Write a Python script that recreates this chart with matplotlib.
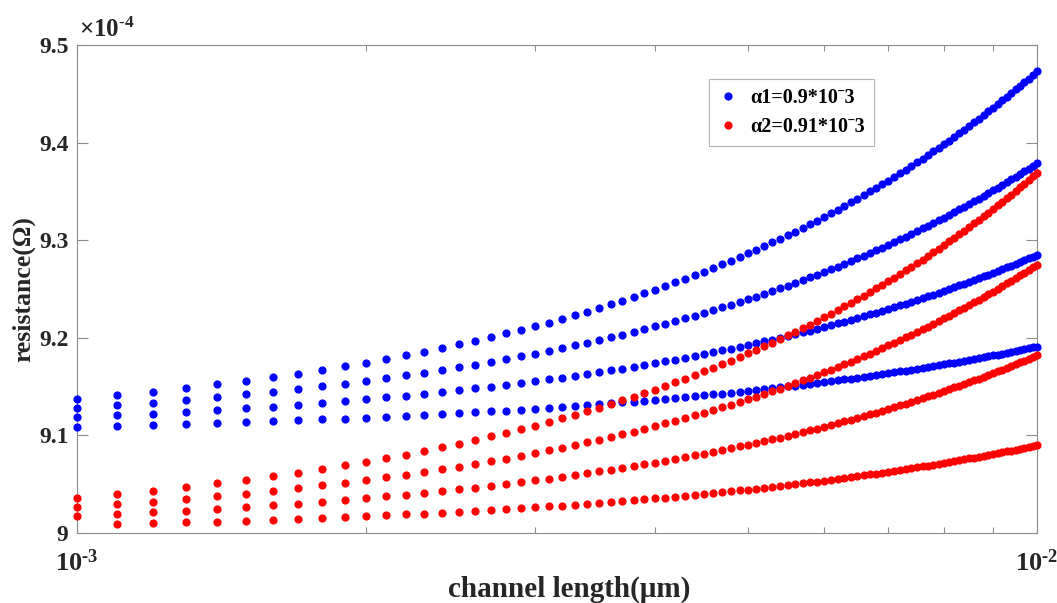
import matplotlib
matplotlib.use("Agg")
import matplotlib.pyplot as plt
from matplotlib.ticker import NullLocator, NullFormatter

plt.rcParams["font.family"] = "Liberation Serif"
plt.rcParams["font.weight"] = "bold"
plt.rcParams["mathtext.fontset"] = "custom"
plt.rcParams["mathtext.rm"] = "Liberation Serif"
plt.rcParams["mathtext.bf"] = "Liberation Serif:bold"
plt.rcParams["mathtext.it"] = "Liberation Serif:italic"

# channel length, in units of 1e-3 um
length = [1.0, 1.1, 1.2, 1.3, 1.4, 1.5, 1.6, 1.7, 1.8, 1.9,
          2.0, 2.1, 2.2, 2.3, 2.4, 2.5, 2.6, 2.7, 2.8, 2.9,
          3.0, 3.1, 3.2, 3.3, 3.4, 3.5, 3.6, 3.7, 3.8, 3.9,
          4.0, 4.1, 4.2, 4.3, 4.4, 4.5, 4.6, 4.7, 4.8, 4.9,
          5.0, 5.1, 5.2, 5.3, 5.4, 5.5, 5.6, 5.7, 5.8, 5.9,
          6.0, 6.1, 6.2, 6.3, 6.4, 6.5, 6.6, 6.7, 6.8, 6.9,
          7.0, 7.1, 7.2, 7.3, 7.4, 7.5, 7.6, 7.7, 7.8, 7.9,
          8.0, 8.1, 8.2, 8.3, 8.4, 8.5, 8.6, 8.7, 8.8, 8.9,
          9.0, 9.1, 9.2, 9.3, 9.4, 9.5, 9.6, 9.7, 9.8, 9.9,
          10.0]

# resistance, in units of 1e-4 ohm -- alpha1 (blue), four curves bottom to top
blue_1 = [9.1091, 9.1100, 9.1109, 9.1118, 9.1127, 9.1137, 9.1146, 9.1155, 9.1164, 9.1173,
          9.1182, 9.1191, 9.1200, 9.1209, 9.1218, 9.1228, 9.1237, 9.1246, 9.1255, 9.1264,
          9.1273, 9.1282, 9.1291, 9.1300, 9.1309, 9.1319, 9.1328, 9.1337, 9.1346, 9.1355,
          9.1364, 9.1373, 9.1382, 9.1391, 9.1400, 9.1410, 9.1419, 9.1428, 9.1437, 9.1446,
          9.1455, 9.1464, 9.1473, 9.1482, 9.1491, 9.1501, 9.1510, 9.1519, 9.1528, 9.1537,
          9.1546, 9.1555, 9.1564, 9.1573, 9.1582, 9.1592, 9.1601, 9.1610, 9.1619, 9.1628,
          9.1637, 9.1646, 9.1655, 9.1664, 9.1673, 9.1683, 9.1692, 9.1701, 9.1710, 9.1719,
          9.1728, 9.1737, 9.1746, 9.1755, 9.1764, 9.1774, 9.1783, 9.1792, 9.1801, 9.1810,
          9.1819, 9.1828, 9.1837, 9.1846, 9.1855, 9.1865, 9.1874, 9.1883, 9.1892, 9.1901,
          9.1910]
blue_2 = [9.1185, 9.1204, 9.1222, 9.1241, 9.1259, 9.1278, 9.1296, 9.1315, 9.1333, 9.1352,
          9.1370, 9.1389, 9.1407, 9.1426, 9.1444, 9.1463, 9.1481, 9.1500, 9.1518, 9.1537,
          9.1555, 9.1574, 9.1592, 9.1611, 9.1629, 9.1648, 9.1666, 9.1685, 9.1703, 9.1722,
          9.1740, 9.1759, 9.1777, 9.1796, 9.1814, 9.1833, 9.1851, 9.1870, 9.1888, 9.1907,
          9.1925, 9.1944, 9.1962, 9.1981, 9.1999, 9.2018, 9.2036, 9.2055, 9.2073, 9.2092,
          9.2110, 9.2129, 9.2147, 9.2166, 9.2184, 9.2203, 9.2221, 9.2240, 9.2258, 9.2277,
          9.2295, 9.2314, 9.2332, 9.2351, 9.2369, 9.2388, 9.2406, 9.2425, 9.2443, 9.2462,
          9.2480, 9.2499, 9.2517, 9.2536, 9.2554, 9.2573, 9.2591, 9.2610, 9.2628, 9.2647,
          9.2665, 9.2684, 9.2702, 9.2721, 9.2739, 9.2758, 9.2776, 9.2795, 9.2813, 9.2832,
          9.2850]
blue_3 = [9.1279, 9.1307, 9.1335, 9.1363, 9.1391, 9.1419, 9.1446, 9.1474, 9.1502, 9.1530,
          9.1558, 9.1586, 9.1614, 9.1642, 9.1670, 9.1698, 9.1725, 9.1753, 9.1781, 9.1809,
          9.1837, 9.1865, 9.1893, 9.1921, 9.1949, 9.1977, 9.2004, 9.2032, 9.2060, 9.2088,
          9.2116, 9.2144, 9.2172, 9.2200, 9.2228, 9.2256, 9.2283, 9.2311, 9.2339, 9.2367,
          9.2395, 9.2423, 9.2451, 9.2479, 9.2507, 9.2535, 9.2562, 9.2590, 9.2618, 9.2646,
          9.2674, 9.2702, 9.2730, 9.2758, 9.2786, 9.2814, 9.2841, 9.2869, 9.2897, 9.2925,
          9.2953, 9.2981, 9.3009, 9.3037, 9.3065, 9.3093, 9.3120, 9.3148, 9.3176, 9.3204,
          9.3232, 9.3260, 9.3288, 9.3316, 9.3344, 9.3372, 9.3399, 9.3427, 9.3455, 9.3483,
          9.3511, 9.3539, 9.3567, 9.3595, 9.3623, 9.3651, 9.3678, 9.3706, 9.3734, 9.3762,
          9.3790]
blue_4 = [9.1373, 9.1410, 9.1448, 9.1485, 9.1522, 9.1560, 9.1597, 9.1634, 9.1671, 9.1709,
          9.1746, 9.1783, 9.1821, 9.1858, 9.1895, 9.1933, 9.1970, 9.2007, 9.2044, 9.2082,
          9.2119, 9.2156, 9.2194, 9.2231, 9.2268, 9.2306, 9.2343, 9.2380, 9.2417, 9.2455,
          9.2492, 9.2529, 9.2567, 9.2604, 9.2641, 9.2679, 9.2716, 9.2753, 9.2790, 9.2828,
          9.2865, 9.2902, 9.2940, 9.2977, 9.3014, 9.3052, 9.3089, 9.3126, 9.3163, 9.3201,
          9.3238, 9.3275, 9.3313, 9.3350, 9.3387, 9.3425, 9.3462, 9.3499, 9.3536, 9.3574,
          9.3611, 9.3648, 9.3686, 9.3723, 9.3760, 9.3798, 9.3835, 9.3872, 9.3909, 9.3947,
          9.3984, 9.4021, 9.4059, 9.4096, 9.4133, 9.4171, 9.4208, 9.4245, 9.4282, 9.4320,
          9.4357, 9.4394, 9.4432, 9.4469, 9.4506, 9.4544, 9.4581, 9.4618, 9.4655, 9.4693,
          9.4730]

# alpha2 (red), four curves bottom to top; first point of the lowest curve is not drawn
nan = float("nan")
red_1 = [nan, 9.0090, 9.0099, 9.0108, 9.0117, 9.0127, 9.0136, 9.0145, 9.0154, 9.0163,
         9.0172, 9.0181, 9.0190, 9.0199, 9.0208, 9.0218, 9.0227, 9.0236, 9.0245, 9.0254,
         9.0263, 9.0272, 9.0281, 9.0290, 9.0299, 9.0309, 9.0318, 9.0327, 9.0336, 9.0345,
         9.0354, 9.0363, 9.0372, 9.0381, 9.0390, 9.0400, 9.0409, 9.0418, 9.0427, 9.0436,
         9.0445, 9.0454, 9.0463, 9.0472, 9.0481, 9.0491, 9.0500, 9.0509, 9.0518, 9.0527,
         9.0536, 9.0545, 9.0554, 9.0563, 9.0572, 9.0582, 9.0591, 9.0600, 9.0609, 9.0618,
         9.0627, 9.0636, 9.0645, 9.0654, 9.0663, 9.0673, 9.0682, 9.0691, 9.0700, 9.0709,
         9.0718, 9.0727, 9.0736, 9.0745, 9.0754, 9.0764, 9.0773, 9.0782, 9.0791, 9.0800,
         9.0809, 9.0818, 9.0827, 9.0836, 9.0845, 9.0855, 9.0864, 9.0873, 9.0882, 9.0891,
         9.0900]
red_2 = [9.0173, 9.0191, 9.0210, 9.0228, 9.0246, 9.0265, 9.0283, 9.0301, 9.0319, 9.0338,
         9.0356, 9.0374, 9.0393, 9.0411, 9.0429, 9.0448, 9.0466, 9.0484, 9.0502, 9.0521,
         9.0539, 9.0557, 9.0576, 9.0594, 9.0612, 9.0631, 9.0649, 9.0667, 9.0685, 9.0704,
         9.0722, 9.0740, 9.0759, 9.0777, 9.0795, 9.0814, 9.0832, 9.0850, 9.0868, 9.0887,
         9.0905, 9.0923, 9.0942, 9.0960, 9.0978, 9.0997, 9.1015, 9.1033, 9.1051, 9.1070,
         9.1088, 9.1106, 9.1125, 9.1143, 9.1161, 9.1180, 9.1198, 9.1216, 9.1234, 9.1253,
         9.1271, 9.1289, 9.1308, 9.1326, 9.1344, 9.1363, 9.1381, 9.1399, 9.1417, 9.1436,
         9.1454, 9.1472, 9.1491, 9.1509, 9.1527, 9.1546, 9.1564, 9.1582, 9.1600, 9.1619,
         9.1637, 9.1655, 9.1674, 9.1692, 9.1710, 9.1729, 9.1747, 9.1765, 9.1783, 9.1802,
         9.1820]
red_3 = [9.0266, 9.0294, 9.0321, 9.0349, 9.0376, 9.0404, 9.0432, 9.0459, 9.0487, 9.0514,
         9.0542, 9.0570, 9.0597, 9.0625, 9.0652, 9.0680, 9.0708, 9.0735, 9.0763, 9.0790,
         9.0818, 9.0846, 9.0873, 9.0901, 9.0928, 9.0956, 9.0984, 9.1011, 9.1039, 9.1066,
         9.1094, 9.1122, 9.1149, 9.1177, 9.1204, 9.1232, 9.1260, 9.1287, 9.1315, 9.1342,
         9.1370, 9.1398, 9.1425, 9.1453, 9.1480, 9.1508, 9.1536, 9.1563, 9.1591, 9.1618,
         9.1646, 9.1674, 9.1701, 9.1729, 9.1756, 9.1784, 9.1812, 9.1839, 9.1867, 9.1894,
         9.1922, 9.1950, 9.1977, 9.2005, 9.2032, 9.2060, 9.2088, 9.2115, 9.2143, 9.2170,
         9.2198, 9.2226, 9.2253, 9.2281, 9.2308, 9.2336, 9.2364, 9.2391, 9.2419, 9.2446,
         9.2474, 9.2502, 9.2529, 9.2557, 9.2584, 9.2612, 9.2640, 9.2667, 9.2695, 9.2722,
         9.2750]
red_4 = [9.0360, 9.0397, 9.0434, 9.0471, 9.0508, 9.0545, 9.0582, 9.0619, 9.0656, 9.0693,
         9.0730, 9.0767, 9.0804, 9.0841, 9.0878, 9.0915, 9.0952, 9.0989, 9.1026, 9.1063,
         9.1100, 9.1137, 9.1174, 9.1211, 9.1248, 9.1285, 9.1322, 9.1359, 9.1396, 9.1433,
         9.1470, 9.1507, 9.1544, 9.1581, 9.1618, 9.1655, 9.1692, 9.1729, 9.1766, 9.1803,
         9.1840, 9.1877, 9.1914, 9.1951, 9.1988, 9.2025, 9.2062, 9.2099, 9.2136, 9.2173,
         9.2210, 9.2247, 9.2284, 9.2321, 9.2358, 9.2395, 9.2432, 9.2469, 9.2506, 9.2543,
         9.2580, 9.2617, 9.2654, 9.2691, 9.2728, 9.2765, 9.2802, 9.2839, 9.2876, 9.2913,
         9.2950, 9.2987, 9.3024, 9.3061, 9.3098, 9.3135, 9.3172, 9.3209, 9.3246, 9.3283,
         9.3320, 9.3357, 9.3394, 9.3431, 9.3468, 9.3505, 9.3542, 9.3579, 9.3616, 9.3653,
         9.3690]

y_ticks = [9.0, 9.1, 9.2, 9.3, 9.4, 9.5]
y_tick_labels = ["9", "9.1", "9.2", "9.3", "9.4", "9.5"]
x_ticks = [1e-3, 1e-2]
x_tick_labels = [r"$\mathbf{10^{\text{-}3}}$", r"$\mathbf{10^{\text{-}2}}$"]
label_1 = "α1=0.9*10ˉ3"
label_2 = "α2=0.91*10ˉ3"

x = [v * 1e-3 for v in length]

fig = plt.figure(figsize=(10.57, 6.03), dpi=100)
ax = fig.add_axes([0.0728, 0.1161, 0.9083, 0.8093])

dot = dict(marker="o", linestyle="none", markersize=4.9, clip_on=False, zorder=3)
for i, ys in enumerate([blue_1, blue_2, blue_3, blue_4]):
    ax.plot(x, ys, color="#0000ff", label=label_1 if i == 0 else None, **dot)
for i, ys in enumerate([red_1, red_2, red_3, red_4]):
    ax.plot(x, ys, color="#ff0000", label=label_2 if i == 0 else None, **dot)

ax.set_xscale("log")
ax.set_xlim(1e-3, 1e-2)
ax.set_ylim(9.0, 9.5)
ax.set_xticks(x_ticks)
ax.set_xticklabels(x_tick_labels)
ax.xaxis.set_minor_formatter(NullFormatter())
ax.set_yticks(y_ticks)
ax.set_yticklabels(y_tick_labels)
ax.yaxis.set_minor_locator(NullLocator())

for s in ax.spines.values():
    s.set_color("#8c8c8c")
    s.set_linewidth(0.8)
ax.tick_params(axis="both", which="both", direction="in", top=True, right=True,
               color="#8c8c8c", labelcolor="#262626", width=0.8)
ax.tick_params(axis="both", which="major", length=8)
ax.tick_params(axis="x", which="minor", length=4.5)
ax.tick_params(axis="y", labelsize=17, pad=6)
ax.tick_params(axis="x", labelsize=19, pad=12)

ax.set_xlabel("channel length(μm)", fontsize=21, fontweight="bold", color="#262626")
ax.xaxis.set_label_coords(0.5125, -0.088)
ax.set_ylabel("resistance(Ω)", fontsize=18.5, fontweight="bold", color="#262626", labelpad=3)

ax.text(0.002, 1.006, r"$\times10^{\text{-}4}$", transform=ax.transAxes, fontsize=18,
        fontweight="normal", color="#262626", ha="left", va="bottom")

leg = ax.legend(loc="upper right", bbox_to_anchor=(0.830, 0.930), borderaxespad=0,
                fontsize=14.5, frameon=True, fancybox=False, handlelength=1.0,
                handletextpad=0.6, labelspacing=0.45, borderpad=0.45)
leg.get_frame().set_edgecolor("#a0a0a0")
leg.get_frame().set_linewidth(0.8)

fig.savefig("out.png", dpi=100)
